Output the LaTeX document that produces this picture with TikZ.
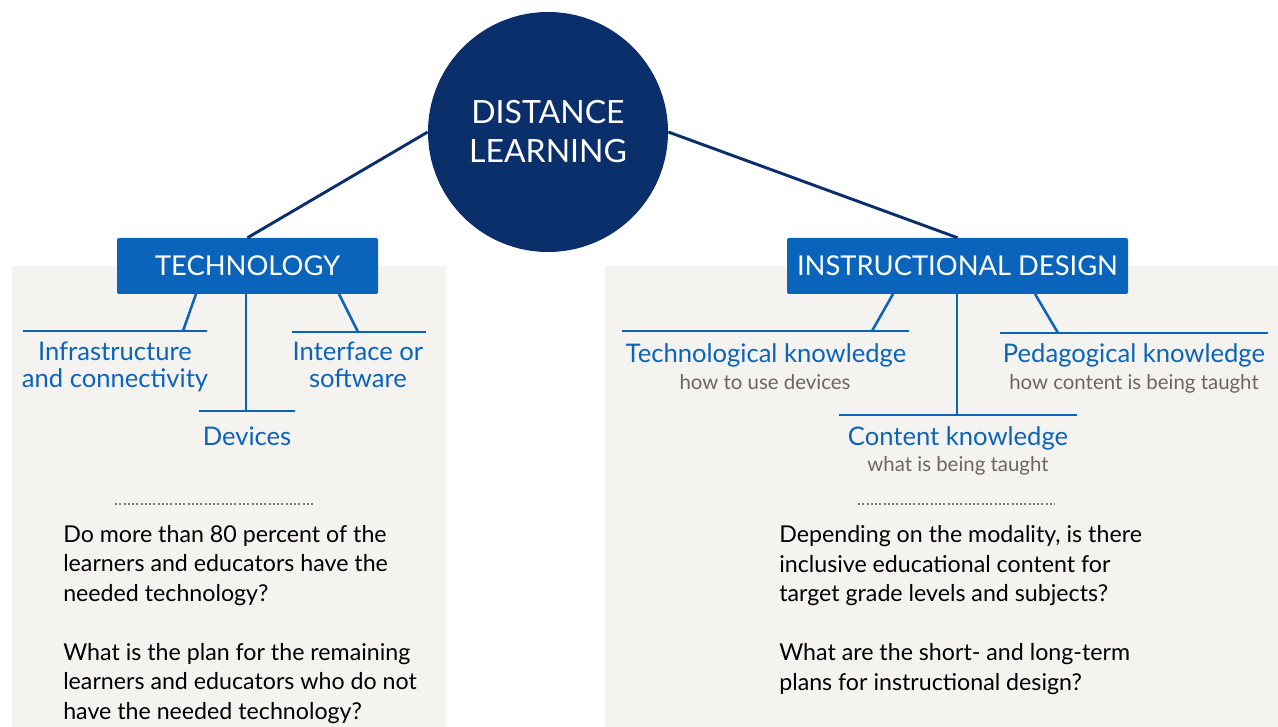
\documentclass[tikz,border=0pt]{standalone}
\usepackage{fontspec}
\setmainfont{Lato}
\definecolor{navy}{HTML}{0A2F6B}
\definecolor{blu}{HTML}{0B64BC}
\definecolor{panel}{HTML}{F4F3EF}
\definecolor{subg}{HTML}{6E6560}
\definecolor{dotg}{HTML}{807B76}
\tikzset{
  navyline/.style={draw=navy, line width=2.2pt},
  bluline/.style={draw=blu, line width=1.9pt},
  hubbox/.style={fill=blu, rounded corners=1.5pt, text=white, inner sep=0pt, minimum height=42pt, font=\fontsize{20.5}{22}\selectfont},
  lbl/.style={text=blu, align=center, inner sep=0pt, font=\fontsize{19.2}{20.25}\selectfont},
  sublbl/.style={text=subg, align=center, inner sep=0pt, font=\fontsize{15.3}{17}\selectfont},
  body/.style={text=black, align=left, inner sep=0pt, font=\fontsize{17.4}{22.1}\selectfont},
  dotline/.style={draw=dotg, line width=1.5pt, dash pattern=on 1.5pt off 1.7pt},
}
\begin{document}
\begin{tikzpicture}[x=0.75pt,y=-0.75pt]
\useasboundingbox (0,0) rectangle (1278,727);
\fill[panel] (12,266) rectangle (446,727);
\fill[panel] (605,266) rectangle (1278,727);

\node[circle, fill=navy, minimum size=180pt, inner sep=0pt, text=white, align=center,
      font=\fontsize{24}{29.25}\selectfont] (dl) at (548,132) {DISTANCE\\LEARNING};

\node[hubbox, minimum width=195.75pt] (tech) at (247.5,266) {TECHNOLOGY};
\node[hubbox, minimum width=255.75pt] (id) at (957.5,266) {INSTRUCTIONAL DESIGN};

\draw[navyline] (dl.west) -- (tech.north);
\draw[navyline] (dl.east) -- (id.north);

% technology branches
\coordinate (t1s) at (196,294);
\coordinate (t1e) at (183,331);
\coordinate (h1l) at (23,331);
\coordinate (h1r) at (207,331);
\coordinate (t3s) at (339,294);
\coordinate (t3e) at (358,332);
\coordinate (h3l) at (292,332);
\coordinate (h3r) at (426,332);
\coordinate (h2l) at (199,411);
\coordinate (h2r) at (295,411);
\coordinate (t2e) at (246,411);
\draw[bluline] (t1s) -- (t1e);
\draw[bluline] (h1l) -- (h1r);
\draw[bluline] (t3s) -- (t3e);
\draw[bluline] (h3l) -- (h3r);
\draw[bluline] (tech.south -| t2e) -- (t2e);
\draw[bluline] (h2l) -- (h2r);

\node[lbl, anchor=base] (infra) at (115,387) {Infrastructure\\and connectivity};
\node[lbl, anchor=base] (iface) at (358,387) {Interface or\\software};
\node[lbl, anchor=base] (dev) at (247,445) {Devices};

% instructional design branches
\coordinate (i1s) at (893,294);
\coordinate (i1e) at (872,331);
\coordinate (g1l) at (622,331);
\coordinate (g1r) at (909,331);
\coordinate (i3s) at (1035,294);
\coordinate (i3e) at (1058,333);
\coordinate (g3l) at (1000,333);
\coordinate (g3r) at (1268,333);
\coordinate (g2l) at (839,415);
\coordinate (g2r) at (1077,415);
\coordinate (i2e) at (957,415);
\draw[bluline] (i1s) -- (i1e);
\draw[bluline] (g1l) -- (g1r);
\draw[bluline] (i3s) -- (i3e);
\draw[bluline] (g3l) -- (g3r);
\draw[bluline] (id.south -| i2e) -- (i2e);
\draw[bluline] (g2l) -- (g2r);

\node[lbl, anchor=base] (tk) at (766,363) {Technological knowledge};
\node[sublbl, anchor=base] (tks) at (765,389) {how to use devices};
\node[lbl, anchor=base] (pk) at (1134,363) {Pedagogical knowledge};
\node[sublbl, anchor=base] (pks) at (1134,389) {how content is being taught};
\node[lbl, anchor=base] (ck) at (958,445) {Content knowledge};
\node[sublbl, anchor=base] (cks) at (958,471) {what is being taught};

% dotted separators
\coordinate (d1l) at (115,504);
\coordinate (d1r) at (313,504);
\coordinate (d2l) at (858,504);
\coordinate (d2r) at (1055,504);
\draw[dotline] (d1l) -- (d1r);
\draw[dotline] (d2l) -- (d2r);

\node[body, anchor=base west] (q1) at (63,719) {Do more than 80 percent of the\\learners and educators have the\\needed technology?\\[22.1pt]What is the plan for the remaining\\learners and educators who do not\\have the needed technology?};
\node[body, anchor=base west] (q2) at (779,690) {Depending on the modality, is there\\inclusive educational content for\\target grade levels and subjects?\\[22.1pt]What are the short- and long-term\\plans for instructional design?};
\end{tikzpicture}
\end{document}
